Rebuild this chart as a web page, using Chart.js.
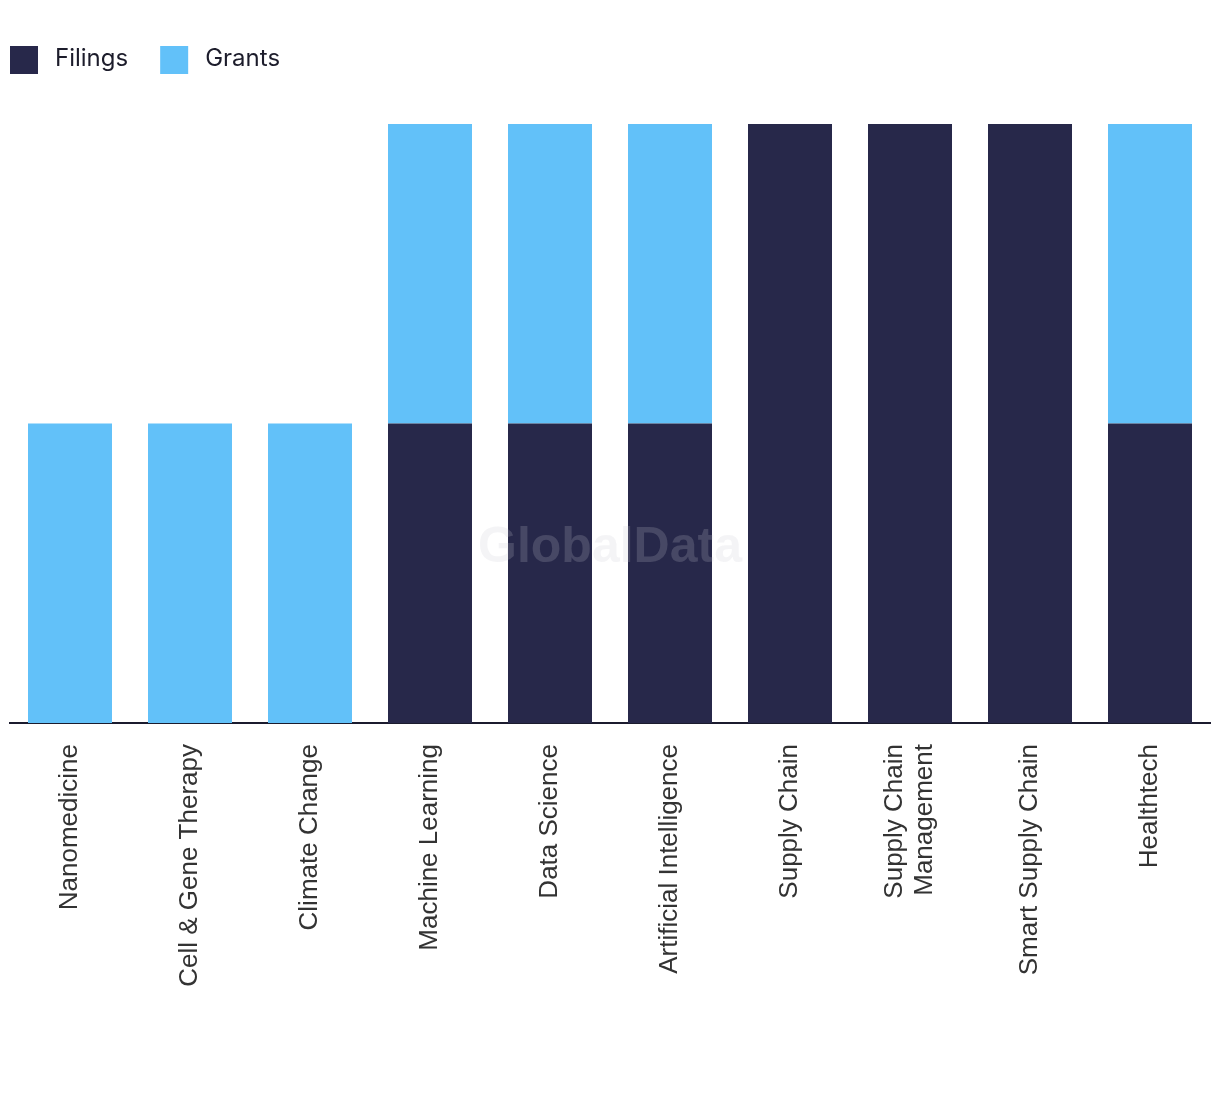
<!DOCTYPE html>
<html>
<head>
<meta charset="utf-8">
<script src="https://cdn.jsdelivr.net/npm/chart.js@4.4.1/dist/chart.umd.min.js"></script>
<style>
  html, body { margin: 0; padding: 0; background: #fff; }
  #wrap { width: 1220px; height: 1094px; position: relative; }
</style>
</head>
<body>
<div id="wrap"><canvas id="myChart"></canvas></div>
<script>
'use strict'
// categories and values
const categories = ['Nanomedicine', 'Cell & Gene Therapy', 'Climate Change', 'Machine Learning', 'Data Science',
    'Artificial Intelligence', 'Supply Chain', ['Supply Chain', 'Management'], 'Smart Supply Chain', 'Healthtech'];
const filings = [0, 0, 0, 1, 1, 1, 2, 2, 2, 1];
const grants = [1, 1, 1, 1, 1, 1, 0, 0, 0, 1];

const labelFont = '26px "Liberation Sans", Arial, sans-serif';
const legendFont = '24px Inter, "Noto Sans", sans-serif';

// legend, watermark and rotated tick labels (multi-line labels centred on the bar)
const extras = {
    id: 'extras',
    afterDatasetsDraw(chart) {
        let ctx = chart.ctx;
        ctx.save();
        ctx.font = 'bold 50px "Liberation Sans", Arial, sans-serif';
        ctx.fillStyle = 'rgba(200, 200, 210, 0.2)';
        ctx.textAlign = 'center';
        ctx.textBaseline = 'middle';
        ctx.fillText('GlobalData', 610, 548);
        ctx.restore();
    },
    afterDraw(chart) {
        let ctx = chart.ctx;
        let xScale = chart.scales.x;
        ctx.save();
        ctx.font = labelFont;
        ctx.fillStyle = '#333333';
        ctx.textAlign = 'right';
        ctx.textBaseline = 'middle';
        let top = chart.chartArea.bottom + 21;
        let lineHeight = 30;
        chart.data.labels.forEach((label, i) => {
            let lines = Array.isArray(label) ? label : [label];
            let x = xScale.getPixelForTick(i);
            ctx.save();
            ctx.translate(x, top);
            ctx.rotate(-Math.PI / 2);
            lines.forEach((line, j) => {
                ctx.fillText(line, 0, (j - (lines.length - 1) / 2) * lineHeight);
            });
            ctx.restore();
        });

        ctx.font = legendFont;
        ctx.textAlign = 'left';
        let lx = 10;
        chart.data.datasets.forEach(ds => {
            ctx.fillStyle = ds.backgroundColor;
            ctx.fillRect(lx, 46, 28, 28);
            ctx.fillStyle = '#1c1c2b';
            ctx.fillText(ds.label, lx + 45, 59);
            lx += 45 + ctx.measureText(ds.label).width + 32;
        });
        ctx.restore();
    }
};

let ctx = document.getElementById('myChart');
let myChart = new Chart(ctx, {
    type: 'bar',
    data: {
        labels: categories,
        datasets: [{
            label: 'Filings',
            data: filings,
            backgroundColor: '#27284a'
        },
        {
            label: 'Grants',
            data: grants,
            backgroundColor: '#62c1f9'
        }]
    },
    options: {
        responsive: true,
        maintainAspectRatio: false,
        animation: false,
        layout: { padding: { left: 10, right: 10, top: 124, bottom: 0 } },
        datasets: { bar: { categoryPercentage: 1, barPercentage: 0.7 } },
        plugins: {
            tooltip: { enabled: false },
            legend: { display: false }
        },
        scales: {
            x: {
                stacked: true,
                grid: { display: false },
                border: { display: true, color: '#1b1b2e', width: 2 },
                ticks: { display: false },
                afterFit(scale) { scale.height = 371; }
            },
            y: {
                stacked: true,
                display: false,
                min: 0,
                max: 2
            }
        }
    },
    plugins: [extras]
});
</script>
</body>
</html>
